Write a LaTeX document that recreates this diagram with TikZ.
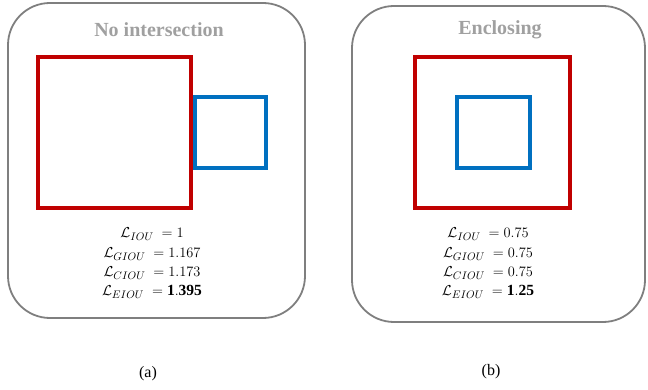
\documentclass[tikz,border=0pt]{standalone}
\usepackage{fontspec}
\setmainfont{Liberation Serif}
\usepackage{tikz}

\definecolor{boxred}{HTML}{C00000}
\definecolor{boxblue}{HTML}{0070C0}
\definecolor{framegray}{HTML}{7F7F7F}
\definecolor{titlegray}{HTML}{A0A0A0}

\tikzset{
  frame/.style={draw=framegray, line width=1.8pt, rounded corners=42pt},
  gtbox/.style={draw=boxred, line width=4.5pt},
  predbox/.style={draw=boxblue, line width=4pt},
  paneltitle/.style={text=titlegray, font=\fontsize{20}{24}\selectfont\bfseries, inner sep=0pt},
  lossline/.style={font=\fontsize{15.5}{18}\selectfont, inner sep=0pt},
  sublabel/.style={font=\fontsize{16}{18}\selectfont, inner sep=0pt}
}

\begin{document}
\begin{tikzpicture}[x=1pt, y=-1pt]
   \useasboundingbox (0,0) rectangle (648,390);

   % (a) no intersection
   \draw[frame] (8,3) rectangle (305,318);
   \node[paneltitle] (titleA) at (159,30) {No intersection};
   \draw[gtbox] (38,57) rectangle (191,208);
   \draw[predbox] (195,97) rectangle (266,168);

   \node[lossline] (iouA)  at (152,234) {$\mathcal{L}_{IOU}\ = 1$};
   \node[lossline] (giouA) at (152,254) {$\mathcal{L}_{GIOU}\ = 1.167$};
   \node[lossline] (ciouA) at (152,273) {$\mathcal{L}_{CIOU}\ = 1.173$};
   \node[lossline] (eiouA) at (152,292) {$\mathcal{L}_{EIOU}\ = \mathbf{1.395}$};

   % (b) enclosing
   \draw[frame] (352,6) rectangle (645,322);
   \node[paneltitle] (titleB) at (500,30) {Enclosing};
   \draw[gtbox] (415,57) rectangle (570,208);
   \draw[predbox] (457,97) rectangle (530,168);

   \node[lossline] (iouB)  at (488,234) {$\mathcal{L}_{IOU}\ = 0.75$};
   \node[lossline] (giouB) at (488,254) {$\mathcal{L}_{GIOU}\ = 0.75$};
   \node[lossline] (ciouB) at (488,273) {$\mathcal{L}_{CIOU}\ = 0.75$};
   \node[lossline] (eiouB) at (488,292) {$\mathcal{L}_{EIOU}\ = \mathbf{1.25}$};

   \node[sublabel] (capA) at (148,374) {(a)};
   \node[sublabel] (capB) at (491,372) {(b)};
\end{tikzpicture}
\end{document}
